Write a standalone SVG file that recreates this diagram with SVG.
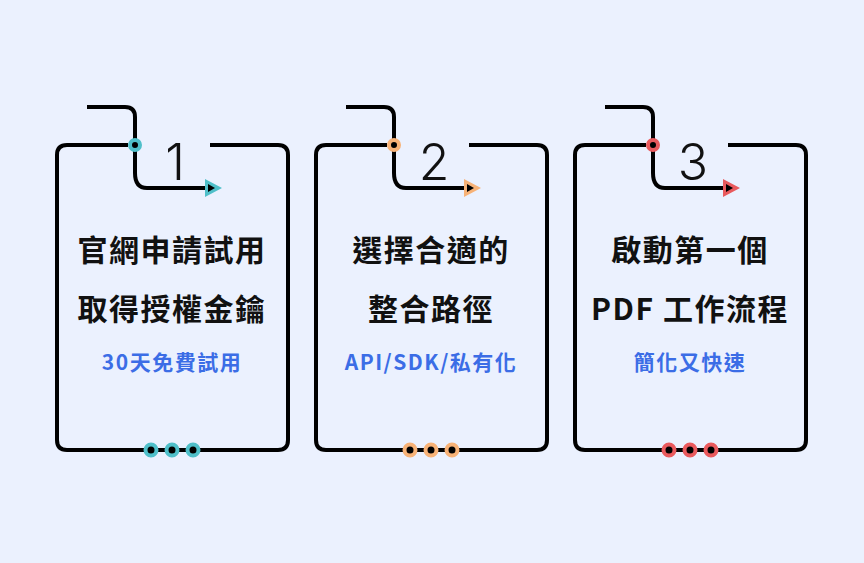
<svg xmlns="http://www.w3.org/2000/svg" width="864" height="563" viewBox="0 0 864 563">
<style>
.ln{fill:none;stroke:#000;stroke-width:4;stroke-linecap:butt}
.t{font-family:"Noto Sans CJK TC","Noto Sans",sans-serif;font-weight:700;font-size:30px;letter-spacing:1.5px;fill:#111;text-anchor:middle}
.s{font-family:"Noto Sans CJK TC","Noto Sans",sans-serif;font-weight:700;font-size:21px;letter-spacing:1.5px;fill:#3b6de6;text-anchor:middle}
.n{font-family:"Inter","Noto Sans",sans-serif;font-weight:300;font-size:50px;fill:#111;text-anchor:middle}
</style>
<defs>
<g id="card">
<path class="ln" d="M128 145 H67 Q57 145 57 155 V440 Q57 450 67 450 H278 Q288 450 288 440 V155 Q288 145 278 145 H210"/>
<path class="ln" d="M87 107 H125 Q135 107 135 117 V173 Q135 188 147 188 H208"/>
</g>
</defs>
<rect width="864" height="563" fill="#ebf1fe"/>
<g id="connectors"></g>
<g id="node1">
<use href="#card"/>
<polygon points="205,179 222,188 205,197" fill="#4fbfc9"/><polygon points="208,184 215,188 208,192"/>
<g fill="#000" stroke="#4fbfc9" stroke-width="4"><circle cx="135" cy="145" r="5"/><circle cx="151" cy="450" r="5.5"/><circle cx="172" cy="450" r="5.5"/><circle cx="193" cy="450" r="5.5"/></g>
<text class="n" x="175" y="180">1</text>
<text class="t" x="172" y="261">官網申請試用</text>
<text class="t" x="172" y="320">取得授權金鑰</text>
<text class="s" x="172" y="370">30天免費試用</text>
</g>
<g id="node2" transform="translate(259,0)">
<use href="#card"/>
<polygon points="205,179 222,188 205,197" fill="#f7b277"/><polygon points="208,184 215,188 208,192"/>
<g fill="#000" stroke="#f7b277" stroke-width="4"><circle cx="135" cy="145" r="5"/><circle cx="151" cy="450" r="5.5"/><circle cx="172" cy="450" r="5.5"/><circle cx="193" cy="450" r="5.5"/></g>
<text class="n" x="175" y="180">2</text>
<text class="t" x="172" y="261">選擇合適的</text>
<text class="t" x="172" y="320">整合路徑</text>
<text class="s" x="172" y="370">API/SDK/私有化</text>
</g>
<g id="node3" transform="translate(518,0)">
<use href="#card"/>
<polygon points="205,179 222,188 205,197" fill="#e95a5d"/><polygon points="208,184 215,188 208,192"/>
<g fill="#000" stroke="#e95a5d" stroke-width="4"><circle cx="135" cy="145" r="5"/><circle cx="151" cy="450" r="5.5"/><circle cx="172" cy="450" r="5.5"/><circle cx="193" cy="450" r="5.5"/></g>
<text class="n" x="175" y="180">3</text>
<text class="t" x="172" y="261">啟動第一個</text>
<text class="t" x="172" y="320">PDF 工作流程</text>
<text class="s" x="172" y="370">簡化又快速</text>
</g>
</svg>
